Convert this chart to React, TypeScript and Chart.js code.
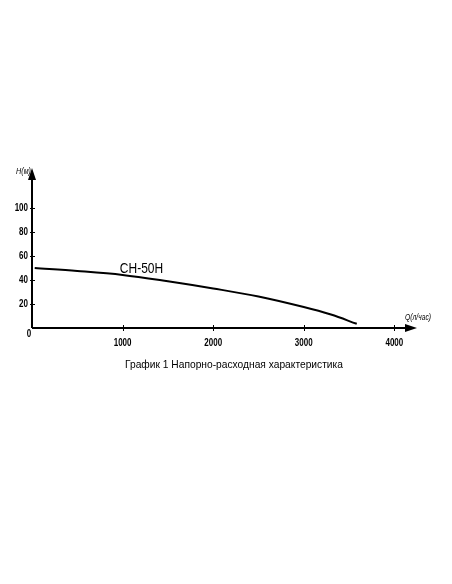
import React, { useEffect, useRef } from "react";
import { Chart, registerables } from "chart.js";

Chart.register(...registerables);

const flowQ = [30, 500, 1000, 1500, 2000, 2500, 3000, 3300, 3585];
const headH = [50, 47.6, 44.3, 39.0, 33.0, 26.3, 17.5, 11.2, 3.5];
const xTicks = [1000, 2000, 3000, 4000];
const yTicks = [20, 40, 60, 80, 100];
const seriesName = "CH-50H";
const yTitle = "H(м)";
const xTitle = "Q(л/час)";
const caption = "График 1 Напорно-расходная характеристика";

const SANS = '"Liberation Sans", Arial, sans-serif';

function drawText(ctx: any, text: string, x: number, y: number, align: string, sx: number) {
  ctx.save();
  ctx.translate(x, y);
  ctx.scale(sx, 1);
  ctx.textAlign = align;
  ctx.fillText(text, 0, 0);
  ctx.restore();
}

const axesPlugin = {
  id: "axesPlugin",
  afterDatasetsDraw(chart: any) {
    const ctx = chart.ctx;
    const xs = chart.scales.x;
    const ys = chart.scales.y;
    const x0 = xs.getPixelForValue(0);
    const y0 = ys.getPixelForValue(0);
    const xEnd = xs.right;
    const yTop = ys.top;
    ctx.save();
    ctx.strokeStyle = "#000";
    ctx.fillStyle = "#000";
    ctx.lineWidth = 2;
    ctx.beginPath();
    ctx.moveTo(x0, y0);
    ctx.lineTo(xEnd - 8, y0);
    ctx.moveTo(x0, y0);
    ctx.lineTo(x0, yTop + 8);
    ctx.stroke();
    ctx.beginPath();
    ctx.moveTo(xEnd, y0);
    ctx.lineTo(xEnd - 12, y0 - 4);
    ctx.lineTo(xEnd - 12, y0 + 4);
    ctx.closePath();
    ctx.fill();
    ctx.beginPath();
    ctx.moveTo(x0, yTop);
    ctx.lineTo(x0 - 4, yTop + 12);
    ctx.lineTo(x0 + 4, yTop + 12);
    ctx.closePath();
    ctx.fill();
    ctx.lineWidth = 1;
    ctx.beginPath();
    for (const v of xTicks) {
      const px = Math.round(xs.getPixelForValue(v)) + 0.5;
      ctx.moveTo(px, y0 - 3);
      ctx.lineTo(px, y0 + 3);
    }
    for (const v of yTicks) {
      const py = Math.round(ys.getPixelForValue(v)) + 0.5;
      ctx.moveTo(x0 - 2, py);
      ctx.lineTo(x0 + 3, py);
    }
    ctx.stroke();
    ctx.font = "bold 10px " + SANS;
    ctx.textBaseline = "middle";
    for (const v of xTicks) {
      drawText(ctx, String(v), xs.getPixelForValue(v), y0 + 15, "center", 0.8);
    }
    for (const v of yTicks) {
      drawText(ctx, String(v), x0 - 4, ys.getPixelForValue(v), "right", 0.8);
    }
    drawText(ctx, "0", x0 - 3, y0 + 6, "center", 0.8);
    ctx.font = "italic 9px " + SANS;
    drawText(ctx, yTitle, x0 - 1, yTop + 3, "right", 0.8);
    drawText(ctx, xTitle, xEnd - 12, y0 - 11, "left", 0.75);
    ctx.font = "15px " + SANS;
    drawText(ctx, seriesName, xs.getPixelForValue(970), ys.getPixelForValue(49), "left", 0.8);
    ctx.font = "11px " + SANS;
    drawText(ctx, caption, 234, y0 + 37, "center", 0.93);
    ctx.restore();
  },
};

export default function App() {
  const ref = useRef<HTMLCanvasElement | null>(null);
  useEffect(() => {
    if (!ref.current) return;
    const chart = new Chart(ref.current, {
      type: "line",
      data: {
        datasets: [
          {
            label: seriesName,
            data: flowQ.map((q, i) => ({ x: q, y: headH[i] })),
            borderColor: "#000",
            borderWidth: 2,
            pointRadius: 0,
            tension: 0.35,
            fill: false,
          },
        ],
      },
      options: {
        responsive: false,
        animation: false,
        layout: { padding: { left: 32, right: 35, top: 168, bottom: 256 } },
        plugins: { legend: { display: false }, tooltip: { enabled: false } },
        scales: {
          x: { type: "linear", min: 0, max: 4250, display: false },
          y: { type: "linear", min: 0, max: 133.5, display: false },
        },
      },
      plugins: [axesPlugin],
    });
    return () => chart.destroy();
  }, []);
  return (
    <div style={{ position: "absolute", left: 0, top: 0, width: 452, height: 584, background: "#fff" }}>
      <canvas ref={ref} width={452} height={584} style={{ display: "block" }} />
    </div>
  );
}
